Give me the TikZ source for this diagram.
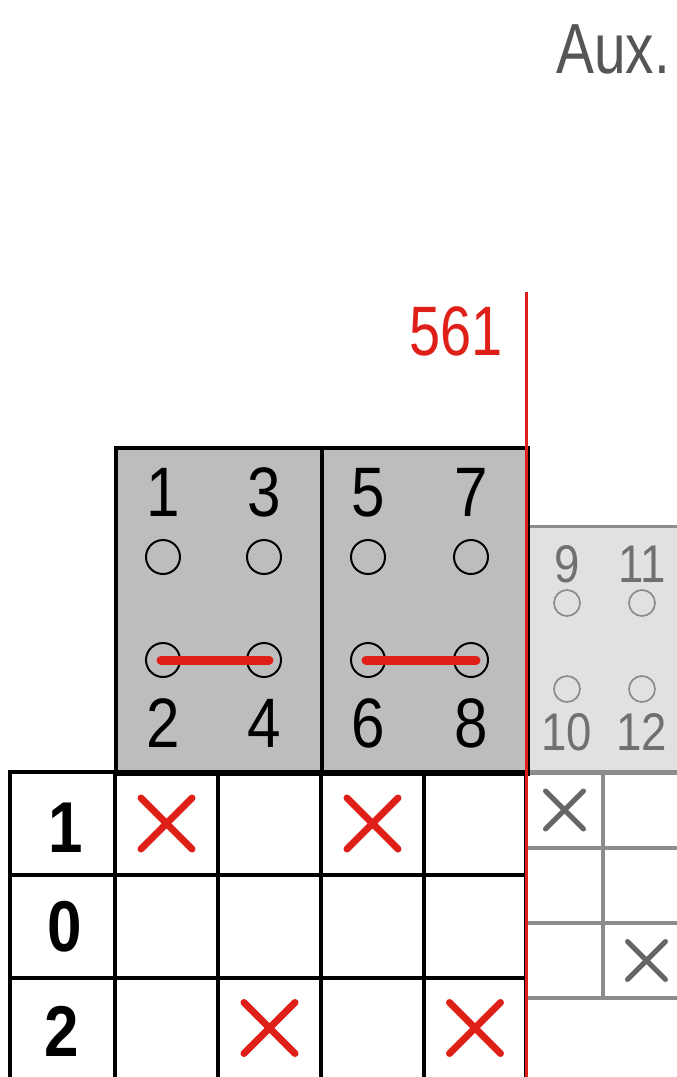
\documentclass[tikz,border=0pt]{standalone}
\usepackage{fontspec}
\newfontfamily\cnd[FakeStretch=0.86]{Liberation Sans}
\newfontfamily\lgt[FakeStretch=0.8]{Liberation Sans}
\definecolor{xred}{HTML}{DF2019}
\definecolor{boxgray}{HTML}{BDBDBD}
\definecolor{lightbox}{HTML}{E1E1E1}
\definecolor{gline}{HTML}{8C8C8C}
\definecolor{gtext}{HTML}{707070}
\definecolor{auxgray}{HTML}{555555}
\tikzset{
  bigdigit/.style={inner sep=0pt, anchor=base, font=\cnd\fontsize{70}{70}\selectfont},
  smalldigit/.style={inner sep=0pt, anchor=base, text=gtext, font=\cnd\fontsize{53}{53}\selectfont},
  rowlabel/.style={inner sep=0pt, anchor=base, font=\cnd\bfseries\fontsize{72}{72}\selectfont},
  hole/.style={circle, draw=black, line width=2pt, minimum size=34pt, inner sep=0pt},
  smallhole/.style={circle, draw=gline, line width=1.7pt, minimum size=26pt, inner sep=0pt},
  redbar/.style={draw=xred, line width=9pt, line cap=round},
  redx/.style={draw=xred, line width=7pt, line cap=round},
  grayx/.style={draw=black!60, line width=5pt, line cap=round},
  mainbox/.style={draw=black, fill=boxgray, line width=3.5pt, inner sep=0pt, anchor=north west},
  auxbox/.style={draw=gline, fill=lightbox, line width=3pt, inner sep=0pt, anchor=north west},
  maingrid/.style={draw=black, line width=3.5pt},
  auxgrid/.style={draw=gline, line width=3.5pt},
}
\begin{document}
\begin{tikzpicture}[x=1pt,y=-1pt]
\useasboundingbox (0,0) rectangle (677,1077);
\clip (0,0) rectangle (677,1077);
\fill[white] (0,0) rectangle (677,1077);

% title
\node[inner sep=0pt, anchor=base east, text=auxgray, font=\lgt\fontsize{71}{71}\selectfont] (aux) at (670,73) {Aux.};

% light auxiliary box
\node[auxbox, minimum width=160pt, minimum height=247pt] (auxbox) at (526,525) {};
\node[smalldigit] (n9) at (567,582) {9};
\node[smalldigit] (n11) at (642,582) {11};
\node[smalldigit] (n10) at (567,750) {10};
\node[smalldigit] (n12) at (642,750) {12};
\node[smallhole] (c9) at (567,603) {};
\node[smallhole] (c11) at (642,603) {};
\node[smallhole] (c10) at (567,689) {};
\node[smallhole] (c12) at (642,689) {};

% auxiliary grid
\foreach \r/\ya/\yb in {1/772/848, 2/848/923, 3/923/998} {
  \foreach \c/\xa/\xb in {1/526/603, 2/603/690} {
    \draw[auxgrid] (\xa,\ya) rectangle (\xb,\yb);
    \coordinate (a\r\c) at ({(\xa+\xb)/2},{(\ya+\yb)/2});
  }
}
\foreach \n in {a11,a32}
  \draw[grayx] ([shift={(-19,-19)}]\n) -- ([shift={(19,19)}]\n)
               ([shift={(-19,19)}]\n) -- ([shift={(19,-19)}]\n);

% main grey boxes
\node[mainbox, minimum width=206pt, minimum height=326pt] (boxA) at (114,446) {};
\node[mainbox, minimum width=206pt, minimum height=326pt] (boxB) at (320,446) {};

\foreach \n/\x in {1/163,3/264,5/368,7/471}
  \node[bigdigit] (n\n) at (\x,516.5) {\n};
\foreach \n/\x in {2/163,4/264,6/368,8/471}
  \node[bigdigit] (n\n) at (\x,747) {\n};
\foreach \n/\x in {1/163,3/264,5/368,7/471}
  \node[hole] (c\n) at (\x,557) {};
\foreach \n/\x in {2/163,4/264,6/368,8/471}
  \node[hole] (c\n) at (\x,660) {};

\draw[redbar] ([xshift=-2pt]c2.center) -- ([xshift=5pt]c4.center);
\draw[redbar] ([xshift=-2pt]c6.center) -- ([xshift=5pt]c8.center);

% main grid
\foreach \r/\ya/\yb in {1/772/875, 2/875/978, 3/978/1085} {
  \foreach \c/\xa/\xb in {0/10/115, 1/115/218, 2/218/321, 3/321/424, 4/424/526} {
    \draw[maingrid] (\xa,\ya) rectangle (\xb,\yb);
    \coordinate (m\r\c) at ({(\xa+\xb)/2},{(\ya+\yb)/2});
  }
}
\node[rowlabel] (l1) at (66,852) {1};
\node[rowlabel] (l0) at (65,951) {0};
\node[rowlabel] (l2) at (62,1056) {2};

\foreach \n in {m11,m13}
  \draw[redx] ([shift={(-25.5,-25.5)}]\n) -- ([shift={(25.5,25.5)}]\n)
              ([shift={(-25.5,25.5)}]\n) -- ([shift={(25.5,-25.5)}]\n);
\coordinate (x32) at (269.5,1028);
\coordinate (x34) at (475,1028);
\foreach \n in {x32,x34}
  \draw[redx] ([shift={(-25.5,-25.5)}]\n) -- ([shift={(25.5,25.5)}]\n)
              ([shift={(-25.5,25.5)}]\n) -- ([shift={(25.5,-25.5)}]\n);

% red line and value
\coordinate (rtop) at (526,292);
\coordinate (rbot) at (526,1080);
\draw[xred, line width=3pt] (rtop) -- (rbot);
\node[inner sep=0pt, anchor=base, text=xred, font=\lgt\fontsize{70}{70}\selectfont] (val) at (456,355) {561};
\end{tikzpicture}
\end{document}
